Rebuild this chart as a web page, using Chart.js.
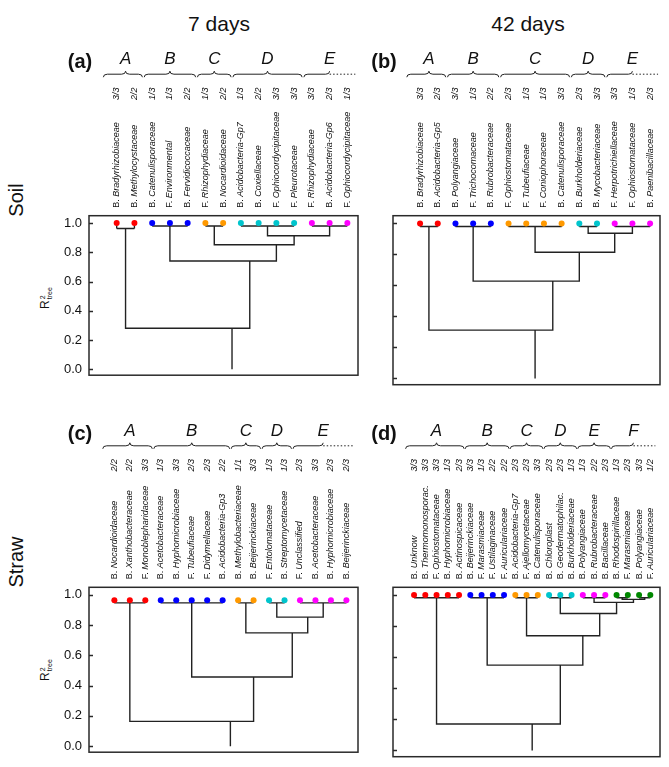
<!DOCTYPE html>
<html>
<head>
<meta charset="utf-8">
<script src="https://cdn.jsdelivr.net/npm/chart.js@4.4.0/dist/chart.umd.min.js"></script>
<style>
body { margin: 0; background: #fff; font-family: "Liberation Sans", Arial, sans-serif; color: #111; }
#wrap { position: relative; width: 669px; height: 767px; overflow: hidden; }
canvas { position: absolute; }
.title { position: absolute; width: 120px; text-align: center; font-size: 21px; line-height: 24px; }
.side { position: absolute; width: 80px; height: 24px; line-height: 24px; text-align: center; font-size: 20px; transform: rotate(-90deg); }
.rlab { position: absolute; width: 50px; height: 16px; line-height: 16px; text-align: center; font-size: 12px; transform: rotate(-90deg); white-space: nowrap; }
.rlab .st { display: inline-block; vertical-align: middle; font-size: 7px; line-height: 7px; text-align: left; margin-left: 1px; }
</style>
</head>
<body>
<div id="wrap">
  <div class="title" style="left:159px;top:12px;">7 days</div>
  <div class="title" style="left:468px;top:12px;">42 days</div>
  <div class="side" style="left:-24px;top:188px;">Soil</div>
  <div class="side" style="left:-24px;top:550px;">Straw</div>
  <div class="rlab" style="left:20px;top:290px;">R<span class="st">2<br>tree</span></div>
  <div class="rlab" style="left:20px;top:662px;">R<span class="st">2<br>tree</span></div>
  <canvas id="pa" width="365" height="360" style="left:0;top:30px;"></canvas>
  <canvas id="pb" width="304" height="360" style="left:365px;top:30px;"></canvas>
  <canvas id="pc" width="365" height="367" style="left:0;top:400px;"></canvas>
  <canvas id="pd" width="304" height="367" style="left:365px;top:400px;"></canvas>
</div>
<script>
// cluster colours, one per group (A, B, C, ...)
var groupColors = ['#ff0000', '#0000ff', '#ff9900', '#00c5cd', '#ff00ff', '#008800'];

// (a) soil, 7 days
var aNames = ['B. Bradyrhizobiaceae', 'B. Methylocystaceae', 'B. Catenulisporaceae', 'F. Environmental', 'B. Fervidicoccaceae',
  'F. Rhizophydiaceae', 'B. Nocardioidaceae', 'B. Acidobacteria-Gp7', 'B. Coxiellaceae', 'F. Ophiocordycipitaceae',
  'F. Pleurotaceae', 'F. Rhizophydiaceae', 'B. Acidobacteria-Gp6', 'F. Ophiocordycipitaceae'];
var aFracs = ['3/3', '2/2', '1/3', '1/3', '2/2', '1/3', '2/2', '1/3', '2/2', '3/3', '3/3', '3/3', '2/3', '1/3'];
var aGroups = ['A', 'B', 'C', 'D', 'E'];
var aSizes = [2, 3, 2, 4, 3];
var aGroupH = [0.963, 0.98, 0.98, 0.98, 0.98];
var aJoinH = [0.281, 0.740, 0.851, 0.913];   // height where group i joins the groups right of it

// (b) soil, 42 days
var bNames = ['B. Bradyrhizobiaceae', 'B. Acidobacteria-Gp5', 'B. Polyangiaceae', 'F. Trichocomaceae', 'B. Rubrobacteraceae',
  'F. Ophiostomataceae', 'F. Tubeufiaceae', 'F. Coniophoraceae', 'B. Catenulisporaceae', 'B. Burkholderiaceae',
  'B. Mycobacteriaceae', 'F. Herpotrichiellaceae', 'F. Ophiostomataceae', 'B. Paenibacillaceae'];
var bFracs = ['3/3', '2/3', '3/3', '1/3', '2/2', '2/3', '1/3', '1/3', '3/3', '2/3', '3/3', '3/3', '1/3', '2/3'];
var bGroups = ['A', 'B', 'C', 'D', 'E'];
var bSizes = [2, 3, 4, 2, 3];
var bGroupH = [0.98, 0.98, 0.98, 0.98, 0.98];
var bJoinH = [0.312, 0.628, 0.814, 0.937];

// (c) straw, 7 days
var cNames = ['B. Nocardioidaceae', 'B. Xanthobacteraceae', 'F. Monoblepharidaceae', 'B. Acetobacteraceae', 'B. Hyphomicrobiaceae',
  'F. Tubeufiaceae', 'F. Didymellaceae', 'B. Acidobacteria-Gp3', 'B. Methylobacteriaceae', 'B. Beijerinckiaceae',
  'F. Entolomataceae', 'B. Streptomycetaceae', 'F. Unclassified', 'B. Acetobacteraceae', 'B. Hyphomicrobiaceae',
  'B. Beijerinckiaceae'];
var cFracs = ['2/2', '2/2', '3/3', '1/3', '3/3', '2/3', '2/3', '2/2', '1/1', '3/3', '1/3', '1/3', '2/3', '3/3', '2/3', '2/3'];
var cGroups = ['A', 'B', 'C', 'D', 'E'];
var cSizes = [3, 5, 2, 2, 4];
var cGroupH = [0.947, 0.947, 0.947, 0.947, 0.947];
var cJoinH = [0.164, 0.457, 0.749, 0.853];

// (d) straw, 42 days
var dNames = ['B. Unknow', 'B. Thermomonosporac.', 'F. Ophiostomataceae', 'B. Hyphomicrobiaceae', 'B. Actinospicaceae',
  'B. Beijerinckiaceae', 'F. Marasmiaceae', 'F. Ustilaginaceae', 'F. Auriculariaceae', 'B. Acidobacteria-Gp7',
  'F. Ajellomycetaceae', 'B. Catenulisporaceae', 'B. Chloroplast', 'B. Geodermatophilac.', 'B. Burkholderiaceae',
  'B. Polyangiaceae', 'B. Rubrobacteraceae', 'B. Bacillaceae', 'B. Rhodospirillaceae', 'F. Marasmiaceae',
  'B. Polyangiaceae', 'F. Auriculariaceae'];
var dFracs = ['3/3', '3/3', '3/3', '1/3', '2/3', '3/3', '1/3', '2/2', '2/2', '2/3', '2/3', '3/3', '2/3', '2/3', '1/3',
  '1/3', '2/2', '2/3', '1/3', '2/3', '3/3', '1/2'];
var dGroups = ['A', 'B', 'C', 'D', 'E', 'F'];
var dSizes = [5, 4, 3, 3, 3, 4];
var dGroupH = [0.983, 0.983, 0.983, 0.983, 0.983, 0.972];
var dSubSizes = [null, null, null, null, null, [2, 2]];
var dSubH = 0.983;
var dJoinH = [0.170, 0.549, 0.738, 0.881, 0.953];

// build the dendrogram line paths and leaf dots from the group data
function makeTree(sizes, groupH, joinH, leafH, subSizes, subH) {
  var lines = [], dots = [], dotColors = [], groups = [];
  var start = 0;
  sizes.forEach(function (n, g) {
    var first = start, last = start + n - 1;
    var subs = subSizes && subSizes[g] ? subSizes[g] : null;
    var stubTo = subs ? subH : groupH[g];
    for (var i = first; i <= last; i++) {
      lines.push({x: i, y: leafH}, {x: i, y: stubTo}, {x: i, y: null});
      dots.push({x: i, y: leafH});
      dotColors.push(groupColors[g]);
    }
    if (subs) {
      var s0 = first, mids = [];
      subs.forEach(function (m) {
        lines.push({x: s0, y: subH}, {x: s0 + m - 1, y: subH}, {x: s0, y: null});
        mids.push(s0 + (m - 1) / 2);
        s0 += m;
      });
      lines.push({x: mids[0], y: subH}, {x: mids[0], y: groupH[g]}, {x: mids[mids.length - 1], y: groupH[g]},
        {x: mids[mids.length - 1], y: subH}, {x: first, y: null});
    } else {
      lines.push({x: first, y: groupH[g]}, {x: last, y: groupH[g]}, {x: last, y: null});
    }
    groups.push({first: first, last: last, h: groupH[g]});
    start += n;
  });
  var right = groups[groups.length - 1];
  for (var g = groups.length - 2; g >= 0; g--) {
    var left = groups[g], h = joinH[g];
    var xl = (left.first + left.last) / 2, xr = (right.first + right.last) / 2;
    lines.push({x: xl, y: left.h}, {x: xl, y: h}, {x: xr, y: h}, {x: xr, y: right.h}, {x: xr, y: null});
    right = {first: left.first, last: right.last, h: h};
  }
  var root = (right.first + right.last) / 2;
  lines.push({x: root, y: right.h}, {x: root, y: 0});
  return {lines: lines, dots: dots, dotColors: dotColors, groups: groups};
}

var FONT = '"Liberation Sans", Arial, sans-serif';

function panelText(p, groups) {
  return {
    id: 'panelText',
    afterDraw: function (chart) {
      var ctx = chart.ctx, area = chart.chartArea, xs = chart.scales.x, ys = chart.scales.y;
      ctx.save();
      // frame + inward ticks
      ctx.strokeStyle = '#2a2a2a';
      ctx.lineWidth = 1.5;
      ctx.strokeRect(area.left, area.top, area.right - area.left, area.bottom - area.top);
      ys.ticks.forEach(function (t) {
        var y = Math.round(ys.getPixelForValue(t.value)) + 0.5;
        ctx.beginPath();
        ctx.moveTo(area.left, y);
        ctx.lineTo(area.left + 4, y);
        ctx.stroke();
      });
      // leaf names (kingdom prefix upright, family italic) and fractions
      ctx.fillStyle = '#111';
      ctx.textBaseline = 'middle';
      p.names.forEach(function (name, i) {
        var x = xs.getPixelForValue(i);
        var pre = name.slice(0, 3), fam = name.slice(3);
        ctx.save();
        ctx.translate(x, area.top - 8);
        ctx.rotate(-Math.PI / 2);
        ctx.textAlign = 'left';
        ctx.font = '9px ' + FONT;
        ctx.fillText(pre, 0, 0);
        var w = ctx.measureText(pre).width;
        ctx.font = 'italic 9px ' + FONT;
        ctx.fillText(fam, w, 0);
        ctx.textAlign = 'center';
        ctx.fillText(p.fracs[i], 114, 0);
        ctx.restore();
      });
      // braces and group letters
      var by = area.top - 141.5;
      ctx.lineWidth = 1;
      ctx.strokeStyle = '#222';
      groups.forEach(function (g, k) {
        var x0 = xs.getPixelForValue(g.first - (k === 0 ? 0.75 : 0.45));
        var x1 = xs.getPixelForValue(g.last + 0.45);
        var xm = xs.getPixelForValue((g.first + g.last) / 2);
        var lastOne = k === groups.length - 1;
        ctx.setLineDash([]);
        ctx.beginPath();
        ctx.moveTo(x0, by + 3);
        ctx.quadraticCurveTo(x0, by, x0 + 4, by);
        ctx.lineTo(xm - 4, by);
        ctx.quadraticCurveTo(xm, by, xm, by - 3);
        if (!lastOne) {
          ctx.quadraticCurveTo(xm, by, xm + 4, by);
          ctx.lineTo(x1 - 4, by);
          ctx.quadraticCurveTo(x1, by, x1, by + 3);
        }
        ctx.stroke();
        if (lastOne) {
          ctx.setLineDash([1.5, 2]);
          ctx.beginPath();
          ctx.moveTo(xm, by);
          ctx.lineTo(x1, by);
          ctx.stroke();
          ctx.setLineDash([]);
        }
        ctx.font = 'italic 17px ' + FONT;
        ctx.textAlign = 'center';
        ctx.fillText(p.letters[k], xm, area.top - 156);
      });
      ctx.font = 'bold 20px ' + FONT;
      ctx.textAlign = 'center';
      ctx.fillText(p.panel, area.left - 9, area.top - 153);
      ctx.restore();
    }
  };
}

function drawPanel(id, p, tree, xmin, xmax, pad, showY) {
  new Chart(document.getElementById(id), {
    type: 'scatter',
    data: {
      datasets: [
        {data: tree.dots, pointBackgroundColor: tree.dotColors, pointBorderWidth: 0, pointRadius: 3, showLine: false, order: 0},
        {data: tree.lines, showLine: true, spanGaps: false, borderColor: '#222', borderWidth: 1.4, pointRadius: 0, order: 1}
      ]
    },
    options: {
      responsive: false,
      animation: false,
      devicePixelRatio: 1,
      layout: {padding: pad},
      events: [],
      plugins: {legend: {display: false}, tooltip: {enabled: false}},
      scales: {
        x: {type: 'linear', display: false, min: xmin, max: xmax},
        y: {
          min: -0.04, max: 1.05,
          afterBuildTicks: function (s) { s.ticks = [0, 0.2, 0.4, 0.6, 0.8, 1].map(function (v) { return {value: v}; }); },
          afterFit: function (s) { s.width = showY ? 40 : 0; },
          grid: {display: false, drawTicks: false},
          border: {display: false},
          ticks: {display: showY, padding: 7, color: '#111', font: {size: 13, family: FONT},
            callback: function (v) { return v.toFixed(1); }}
        }
      }
    },
    plugins: [panelText(p, tree.groups)]
  });
}

var treeA = makeTree(aSizes, aGroupH, aJoinH, 1.0);
var treeB = makeTree(bSizes, bGroupH, bJoinH, 1.0);
var treeC = makeTree(cSizes, cGroupH, cJoinH, 0.964);
var treeD = makeTree(dSizes, dGroupH, dJoinH, 1.0, dSubSizes, dSubH);

drawPanel('pa', {names: aNames, fracs: aFracs, letters: aGroups, panel: '(a)'}, treeA, -1.56, 13.6,
  {left: 49, right: 7, top: 185.7, bottom: 5.3}, true);
drawPanel('pb', {names: bNames, fracs: bFracs, letters: bGroups, panel: '(b)'}, treeB, -1.53, 13.56,
  {left: 28, right: 9, top: 185.7, bottom: 5.3}, false);
drawPanel('pc', {names: cNames, fracs: cFracs, letters: cGroups, panel: '(c)'}, treeC, -1.64, 15.75,
  {left: 49, right: 7, top: 187.3, bottom: 10.3}, true);
drawPanel('pd', {names: dNames, fracs: dFracs, letters: dGroups, panel: '(d)'}, treeD, -1.87, 21.86,
  {left: 28, right: 9, top: 187.3, bottom: 10.3}, false);
</script>
</body>
</html>
